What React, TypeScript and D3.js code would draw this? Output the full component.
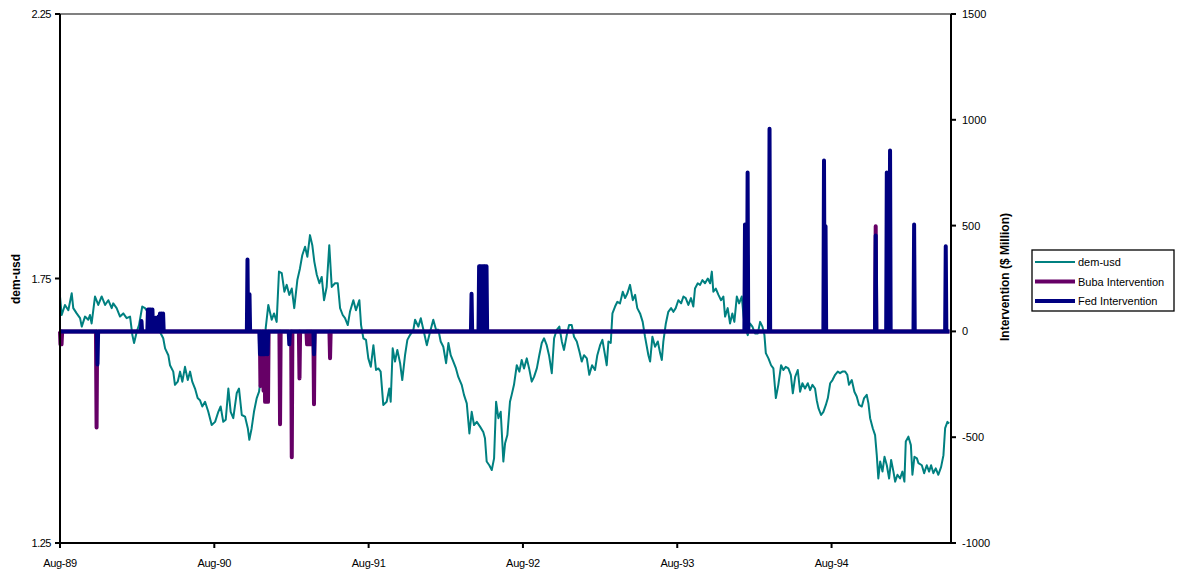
import React from 'react';
import * as d3 from 'd3';

// ---- data (time in years since Aug-1989) ----
const demYears = [
  0.000, 0.011, 0.032, 0.054, 0.076, 0.086, 0.108, 0.130, 0.141, 0.162, 0.183, 0.194, 0.205, 0.227, 0.248, 0.270,
  0.292, 0.313, 0.335, 0.345, 0.367, 0.389, 0.410, 0.432, 0.454, 0.469, 0.480, 0.497, 0.512, 0.533, 0.551, 0.568,
  0.583, 0.616, 0.648, 0.669, 0.681, 0.702, 0.713, 0.734, 0.745, 0.763, 0.778, 0.793, 0.810, 0.828, 0.843, 0.857,
  0.875, 0.892, 0.907, 0.922, 0.940, 0.961, 0.983, 1.005, 1.026, 1.041, 1.058, 1.074, 1.091, 1.106, 1.123, 1.145,
  1.160, 1.178, 1.199, 1.217, 1.227, 1.242, 1.257, 1.275, 1.290, 1.301, 1.318, 1.333, 1.350, 1.372, 1.387, 1.404,
  1.419, 1.437, 1.454, 1.469, 1.486, 1.502, 1.518, 1.538, 1.555, 1.570, 1.588, 1.603, 1.620, 1.635, 1.648, 1.664,
  1.681, 1.696, 1.711, 1.728, 1.745, 1.761, 1.782, 1.800, 1.815, 1.832, 1.847, 1.865, 1.879,
  1.901, 1.918, 1.940, 1.951, 1.966, 1.983, 1.998, 2.014, 2.031, 2.048, 2.063, 2.078, 2.095, 2.117, 2.134, 2.143,
  2.156, 2.171, 2.186, 2.204, 2.218, 2.236, 2.251, 2.268, 2.290, 2.301, 2.322, 2.338, 2.355, 2.377, 2.398, 2.419,
  2.437, 2.452, 2.467, 2.484, 2.502, 2.517, 2.532, 2.549, 2.566, 2.581, 2.603, 2.618, 2.636, 2.653, 2.668, 2.683,
  2.701, 2.722, 2.743, 2.754, 2.765, 2.782, 2.798, 2.813, 2.826, 2.841, 2.856, 2.873, 2.884, 2.899, 2.916, 2.927,
  2.942, 2.960, 2.977, 2.992, 3.007, 3.025, 3.040, 3.057, 3.072, 3.090, 3.106, 3.122, 3.137, 3.154, 3.169, 3.187,
  3.202, 3.219, 3.236, 3.252, 3.266, 3.284, 3.299, 3.316, 3.331, 3.349, 3.366, 3.381, 3.396, 3.414, 3.430, 3.448,
  3.467, 3.482, 3.500, 3.515, 3.532, 3.543, 3.554, 3.569, 3.580, 3.597, 3.612, 3.629, 3.647, 3.662, 3.677, 3.694,
  3.712, 3.727, 3.741, 3.759, 3.776, 3.791,
  3.813, 3.824, 3.839, 3.856, 3.874, 3.889, 3.900, 3.910, 3.926, 3.942, 3.960, 3.975, 3.990, 4.007, 4.025, 4.040,
  4.055, 4.072, 4.089, 4.104, 4.115, 4.133, 4.148, 4.163, 4.180, 4.198, 4.213, 4.224, 4.234, 4.250, 4.267, 4.284,
  4.299, 4.310, 4.327, 4.342, 4.357, 4.370, 4.386, 4.401, 4.418, 4.429, 4.440, 4.457, 4.472, 4.487, 4.504, 4.522,
  4.537, 4.552, 4.565, 4.574, 4.591, 4.608, 4.623, 4.639, 4.655, 4.673, 4.688, 4.703, 4.720, 4.736, 4.749, 4.764,
  4.781, 4.796, 4.811, 4.828, 4.846, 4.861, 4.876, 4.893, 4.904, 4.915, 4.932, 4.947, 4.963, 4.976, 4.991, 5.006,
  5.023, 5.040, 5.055, 5.070, 5.088, 5.102, 5.113, 5.131, 5.148, 5.163, 5.178, 5.196, 5.211, 5.228, 5.239, 5.250,
  5.267, 5.282, 5.293, 5.303, 5.315, 5.330, 5.343, 5.358, 5.373, 5.386, 5.401, 5.412, 5.427, 5.444, 5.459, 5.472,
  5.481, 5.498, 5.514, 5.524, 5.537, 5.553, 5.563, 5.585, 5.600, 5.617, 5.632, 5.645, 5.660, 5.675, 5.692, 5.710,
  5.725, 5.736, 5.751, 5.762,
];

const demUsd = [
  1.716, 1.681, 1.700, 1.690, 1.722, 1.694, 1.684, 1.675, 1.659, 1.678, 1.672, 1.681, 1.665, 1.716, 1.700, 1.716,
  1.700, 1.709, 1.694, 1.703, 1.694, 1.678, 1.684, 1.675, 1.678, 1.643, 1.628, 1.649, 1.662, 1.697, 1.694, 1.687,
  1.681, 1.665, 1.649, 1.637, 1.618, 1.605, 1.586, 1.574, 1.549, 1.555, 1.574, 1.555, 1.583, 1.558, 1.574, 1.555,
  1.542, 1.524, 1.520, 1.508, 1.517, 1.498, 1.473, 1.479, 1.498, 1.508, 1.479, 1.483, 1.542, 1.498, 1.486, 1.533,
  1.542, 1.492, 1.489, 1.467, 1.445, 1.467, 1.498, 1.524, 1.536, 1.561, 1.599, 1.656, 1.700, 1.672, 1.684, 1.668,
  1.763, 1.760, 1.725, 1.738, 1.719, 1.731, 1.694, 1.747, 1.769, 1.794, 1.810, 1.791, 1.832, 1.813, 1.782, 1.757,
  1.741, 1.753, 1.709, 1.734, 1.813, 1.734, 1.741, 1.741, 1.694, 1.681, 1.675, 1.662, 1.687,
  1.709, 1.690, 1.709, 1.662, 1.637, 1.634, 1.599, 1.583, 1.624, 1.577, 1.580, 1.574, 1.511, 1.517, 1.542, 1.517,
  1.618, 1.593, 1.615, 1.590, 1.558, 1.605, 1.634, 1.643, 1.653, 1.672, 1.659, 1.675, 1.653, 1.624, 1.649, 1.672,
  1.653, 1.653, 1.631, 1.621, 1.590, 1.628, 1.605, 1.593, 1.580, 1.564, 1.549, 1.530, 1.514, 1.457, 1.498, 1.473,
  1.479, 1.470, 1.460, 1.448, 1.404, 1.397, 1.388, 1.410, 1.517, 1.486, 1.498, 1.404, 1.438, 1.454, 1.517, 1.530,
  1.549, 1.586, 1.574, 1.596, 1.580, 1.599, 1.580, 1.555, 1.564, 1.580, 1.605, 1.628, 1.637, 1.624, 1.605, 1.571,
  1.637, 1.653, 1.659, 1.631, 1.615, 1.643, 1.662, 1.662, 1.640, 1.631, 1.612, 1.593, 1.605, 1.599, 1.568, 1.586,
  1.577, 1.605, 1.624, 1.634, 1.605, 1.586, 1.631, 1.628, 1.684, 1.697, 1.706, 1.703, 1.725, 1.713, 1.722, 1.738,
  1.709, 1.719, 1.694, 1.684, 1.668, 1.640,
  1.605, 1.593, 1.640, 1.621, 1.631, 1.609, 1.596, 1.631, 1.665, 1.687, 1.694, 1.687, 1.694, 1.709, 1.703, 1.716,
  1.713, 1.700, 1.713, 1.697, 1.731, 1.741, 1.738, 1.747, 1.741, 1.750, 1.741, 1.763, 1.725, 1.731, 1.719, 1.709,
  1.716, 1.678, 1.694, 1.665, 1.684, 1.668, 1.716, 1.703, 1.716, 1.681, 1.656, 1.643, 1.665, 1.659, 1.646, 1.646,
  1.668, 1.659, 1.643, 1.609, 1.599, 1.586, 1.580, 1.524, 1.549, 1.586, 1.577, 1.583, 1.580, 1.568, 1.533, 1.564,
  1.577, 1.536, 1.552, 1.542, 1.552, 1.539, 1.549, 1.542, 1.520, 1.505, 1.492, 1.498, 1.511, 1.524, 1.552, 1.558,
  1.568, 1.574, 1.571, 1.574, 1.574, 1.568, 1.549, 1.558, 1.536, 1.527, 1.511, 1.508, 1.524, 1.530, 1.514, 1.486,
  1.467, 1.454, 1.416, 1.372, 1.404, 1.385, 1.413, 1.397, 1.372, 1.407, 1.385, 1.366, 1.379, 1.372, 1.385, 1.366,
  1.442, 1.451, 1.435, 1.379, 1.413, 1.410, 1.401, 1.397, 1.382, 1.397, 1.385, 1.397, 1.382, 1.391, 1.379, 1.394,
  1.416, 1.467, 1.479, 1.476,
];

const bubaYears = [
  0.003, 0.010, 0.237, 1.299, 1.309, 1.319, 1.329, 1.338, 1.348, 1.426, 1.502, 1.552, 1.601, 1.614, 1.627, 1.646,
  1.750, 5.286,
];
const bubaAmounts = [
  -61, -61, -454, -258, -258, -280, -333, -333, -333, -439, -595, -222, -61, -61, -61, -344,
  -127, 497,
];

const fedYears = [
  0.243, 0.528, 0.570, 0.580, 0.590, 0.599, 0.609, 0.619, 0.629, 0.638, 0.648, 0.658, 0.668,
  1.215, 1.228, 1.296, 1.306, 1.316, 1.325, 1.335, 1.345, 1.486, 1.646,
  2.667, 2.716, 2.725, 2.735, 2.745, 2.754, 2.764,
  4.439, 4.456, 4.598, 4.951, 4.961, 5.286, 5.358, 5.379, 5.535, 5.740,
];
const fedAmounts = [
  -156, 49, 104, 104, 104, 104, 65, 65, 65, 70, 85, 85, 85,
  340, 175, -108, -108, -108, -108, -108, -108, -61, -108,
  178, 308, 308, 308, 308, 308, 308,
  505, 751, 958, 808, 497, 453, 751, 855, 505, 402,
];

const xTickYears = [0, 1, 2, 3, 4, 5];
const xTickLabels = ['Aug-89', 'Aug-90', 'Aug-91', 'Aug-92', 'Aug-93', 'Aug-94'];
const leftTicks = [1.25, 1.75, 2.25];
const rightTicks = [-1000, -500, 0, 500, 1000, 1500];
const seriesNames = ['dem-usd', 'Buba Intervention', 'Fed Intervention'];
const seriesColors = ['#008080', '#660066', '#000080'];

const X_END = 5.774;
const SERIES_END = 5.764;

// Daily series: zero on non-intervention days, so every intervention day is its own spike.
function buildSpikes(years: number[], amounts: number[]): [number, number][] {
  const day = 0.004;
  const pts: [number, number][] = [];
  if (years[0] - day > 0) pts.push([0, 0]);
  for (let i = 0; i < years.length; i++) {
    const t = years[i];
    pts.push([Math.max(0, t - day), 0]);
    pts.push([t, amounts[i]]);
    pts.push([t + day, 0]);
  }
  pts.push([SERIES_END, 0]);
  return pts;
}

const FONT = "'Liberation Sans', Arial, Helvetica, sans-serif";

export default function App() {
  const left = 60, right = 951, top = 14, bottom = 543;
  const x = d3.scaleLinear().domain([0, X_END]).range([left, right]);
  const yL = d3.scaleLinear().domain([1.25, 2.25]).range([bottom, top]);
  const yR = d3.scaleLinear().domain([-1000, 1500]).range([bottom, top]);

  const demLine = d3.line<number>().x((_, i) => x(demYears[i])).y((d) => yL(d));
  const spikeLine = d3.line<[number, number]>().x((d) => x(d[0])).y((d) => yR(d[1]));

  const bubaPts = buildSpikes(bubaYears, bubaAmounts);
  const fedPts = buildSpikes(fedYears, fedAmounts);

  const legX = 1032, legY = 250, legW = 142, legH = 61;

  return (
    <div style={{ position: 'absolute', left: 0, top: 0 }}>
      <svg width={1178} height={576} style={{ display: 'block', background: '#fff' }} fontFamily={FONT}>
        {/* top border */}
        <line x1={left} x2={right} y1={top} y2={top} stroke="#808080" strokeWidth={2} />
        {/* series */}
        <path d={demLine(demUsd) || ''} fill="none" stroke={seriesColors[0]} strokeWidth={2} strokeLinejoin="round" />
        <path d={spikeLine(bubaPts) || ''} fill="none" stroke={seriesColors[1]} strokeWidth={4} strokeLinejoin="round" />
        <path d={spikeLine(fedPts) || ''} fill="none" stroke={seriesColors[2]} strokeWidth={4} strokeLinejoin="round" />

        {/* left axis */}
        <line x1={left} x2={left} y1={top} y2={bottom + 1} stroke="#000" strokeWidth={2} />
        {leftTicks.map((v) => (
          <g key={v}>
            <line x1={left - 5} x2={left} y1={yL(v)} y2={yL(v)} stroke="#000" strokeWidth={2} />
            <text x={left - 9} y={yL(v) + 4} fontSize={11} textAnchor="end" letterSpacing={-0.5}>
              {v.toFixed(2)}
            </text>
          </g>
        ))}
        {/* right axis */}
        <line x1={right} x2={right} y1={top} y2={bottom + 1} stroke="#000" strokeWidth={2} />
        {rightTicks.map((v) => (
          <g key={v}>
            <line x1={right} x2={right + 5} y1={yR(v)} y2={yR(v)} stroke="#000" strokeWidth={2} />
            <text x={right + 11} y={yR(v) + 4} fontSize={11} textAnchor="start">
              {v}
            </text>
          </g>
        ))}
        {/* bottom axis */}
        <line x1={left - 1} x2={right + 1} y1={bottom} y2={bottom} stroke="#000" strokeWidth={2} />
        {xTickYears.map((t, i) => (
          <g key={t}>
            <line x1={x(t)} x2={x(t)} y1={bottom} y2={bottom + 5} stroke="#000" strokeWidth={2} />
            <text x={x(t)} y={bottom + 24} fontSize={11} textAnchor="middle" letterSpacing={-0.3}>
              {xTickLabels[i]}
            </text>
          </g>
        ))}

        {/* axis titles */}
        <text transform={`translate(20,279) rotate(-90)`} fontSize={12} fontWeight="bold" textAnchor="middle">
          dem-usd
        </text>
        <text transform={`translate(1009,277) rotate(-90)`} fontSize={12} fontWeight="bold" textAnchor="middle">
          Intervention ($ Million)
        </text>

        {/* legend */}
        <rect x={legX} y={legY} width={legW} height={legH} fill="#fff" stroke="#000" strokeWidth={1.3} />
        {seriesNames.map((name, i) => {
          const cy = legY + 12 + i * 19.5;
          return (
            <g key={name}>
              <line x1={legX + 3} x2={legX + 43} y1={cy} y2={cy} stroke={seriesColors[i]} strokeWidth={i === 0 ? 2 : 4} />
              <text x={legX + 46} y={cy + 4} fontSize={11}>
                {name}
              </text>
            </g>
          );
        })}
      </svg>
    </div>
  );
}
